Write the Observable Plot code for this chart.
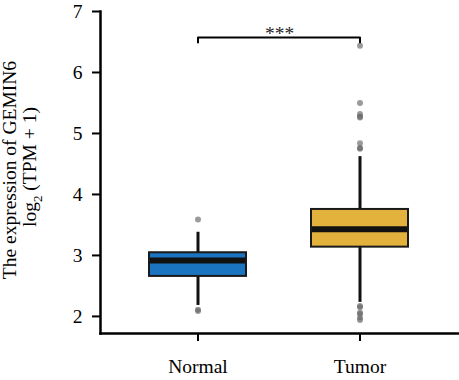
<!DOCTYPE html>
<html>
<head>
<meta charset="utf-8">
<script src="https://cdn.jsdelivr.net/npm/d3@7"></script>
<script src="https://cdn.jsdelivr.net/npm/@observablehq/plot@0.6"></script>
<style>
  html, body { margin: 0; padding: 0; background: #fff; }
  #chart svg { display: block; }
  #chart svg text { font-family: "Liberation Serif", "Times New Roman", serif; }
</style>
</head>
<body>
<div id="chart"></div>
<script>
// ---- data ----
const groups = ["Normal", "Tumor"];
const colors = ["#1b74bf", "#e3b23c"];
const q1 = [2.656, 3.136];
const medians = [2.918, 3.43];
const q3 = [3.044, 3.754];
const whiskerLow = [2.18, 2.23];
const whiskerHigh = [3.38, 4.62];
const outlierGroup = ["Normal", "Normal", "Normal",
  "Tumor", "Tumor", "Tumor", "Tumor", "Tumor", "Tumor", "Tumor", "Tumor",
  "Tumor", "Tumor", "Tumor", "Tumor", "Tumor", "Tumor"];
const outlierValue = [3.59, 2.11, 2.09,
  6.44, 5.50, 5.32, 5.28, 5.26, 4.84, 4.76, 4.75,
  2.17, 2.15, 2.06, 2.04, 1.98, 1.94];
const yTicks = [2, 3, 4, 5, 6, 7];
const yTitle1 = "The expression of GEMIN6";
const sigLabel = "***";
const bracketY = 6.575;
const bracketTickY = 6.49;

const boxes = groups.map((g, i) => ({
  group: g, color: colors[i], q1: q1[i], median: medians[i], q3: q3[i],
  lo: whiskerLow[i], hi: whiskerHigh[i]
}));
const outliers = outlierGroup.map((g, i) => ({group: g, value: outlierValue[i]}));
const bracket = [
  {group: groups[0], y: bracketTickY},
  {group: groups[0], y: bracketY},
  {group: groups[1], y: bracketY},
  {group: groups[1], y: bracketTickY}
];

const font = "Liberation Serif";

const chart = Plot.plot({
  width: 459,
  height: 380,
  marginLeft: 100,
  marginRight: 1,
  marginTop: 11,
  marginBottom: 47,
  style: {fontFamily: font, fontSize: "19.5px", color: "#000", background: "#fff"},
  x: {type: "band", domain: groups, paddingInner: 0.4, paddingOuter: 0.3},
  y: {domain: [1.72, 7]},
  marks: [
    Plot.axisY({ticks: yTicks, tickFormat: "d", tickSize: 8, tickPadding: 10, strokeWidth: 2, label: null, fontFamily: font}),
    Plot.axisX({tickSize: 8, tickPadding: 18, strokeWidth: 2, label: null, fontFamily: font}),
    Plot.ruleX(boxes, {x: "group", y1: "lo", y2: "hi", stroke: "#111", strokeWidth: 3}),
    Plot.barY(boxes, {x: "group", y1: "q1", y2: "q3", fill: "color", stroke: "#1a1a1a", strokeWidth: 2}),
    Plot.tickY(boxes, {x: "group", y: "median", stroke: "#111", strokeWidth: 6, inset: 1}),
    Plot.dot(outliers, {x: "group", y: "value", r: 3, fill: "#666", fillOpacity: 0.65, stroke: "none"}),
    Plot.line(bracket, {x: "group", y: "y", stroke: "#000", strokeWidth: 2}),
    Plot.text([sigLabel], {frameAnchor: "middle", y: bracketY, text: d => d, lineAnchor: "bottom", dy: 3, fill: "#222", fontFamily: font}),
    Plot.frame({anchor: "left", strokeWidth: 2.5}),
    Plot.frame({anchor: "bottom", strokeWidth: 2.5})
  ]
});

document.getElementById("chart").appendChild(chart);

// y-axis title (two lines, rotated, with subscript)
const svg = d3.select(chart);
svg.append("text")
  .attr("transform", "translate(16,170) rotate(-90)")
  .attr("text-anchor", "middle")
  .attr("font-family", font)
  .attr("font-size", "19.5px")
  .attr("fill", "#000")
  .text(yTitle1);
const t2 = svg.append("text")
  .attr("transform", "translate(36,167) rotate(-90)")
  .attr("text-anchor", "middle")
  .attr("font-family", font)
  .attr("font-size", "19.5px")
  .attr("fill", "#000");
t2.append("tspan").text("log");
t2.append("tspan").attr("dy", 6).attr("font-size", "13px").text("2");
t2.append("tspan").attr("dy", -6).text(" (TPM + 1)");
</script>
</body>
</html>
